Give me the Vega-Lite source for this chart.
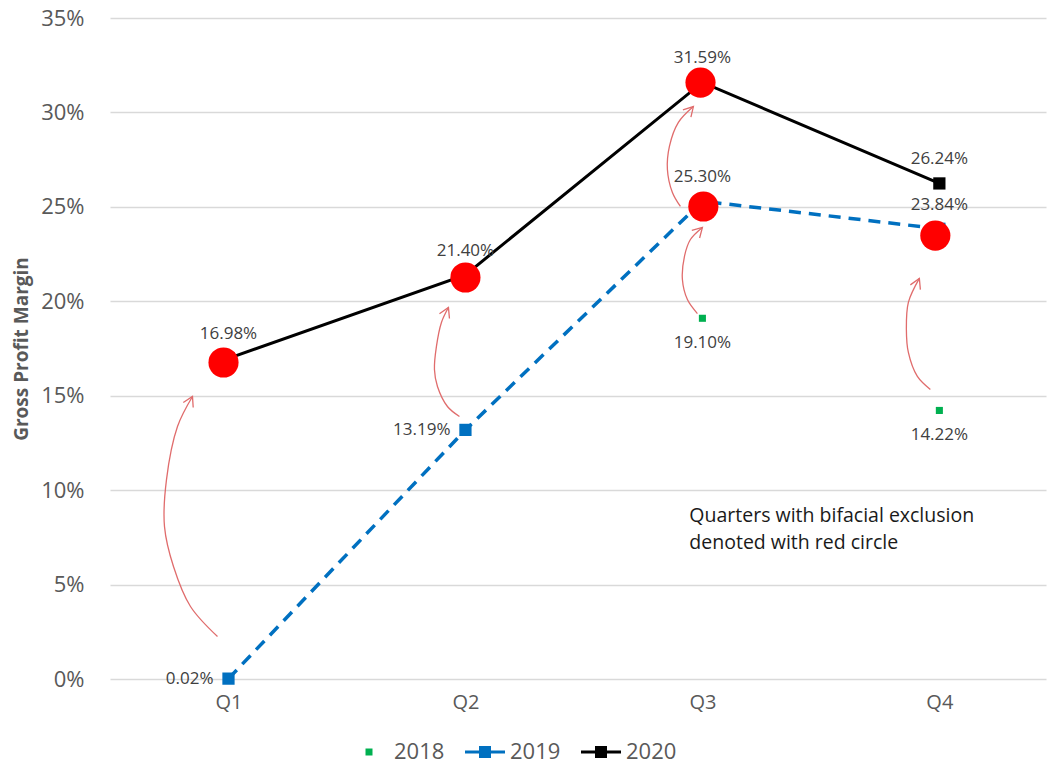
{
  "$schema": "https://vega.github.io/schema/vega-lite/v6.json",
  "width": 936,
  "height": 661,
  "autosize": {"type": "none"},
  "padding": {"left": 110, "top": 18, "right": 1, "bottom": 89},
  "background": "white",
  "config": {
    "view": {"stroke": null},
    "font": "Open Sans",
    "axis": {"labelFont": "Open Sans", "titleFont": "Open Sans"},
    "legend": {"labelFont": "Open Sans"}
  },
  "datasets": {
    "main": [
      {"year": "2018", "q": 3, "value": 0.1910},
      {"year": "2018", "q": 4, "value": 0.1422},
      {"year": "2019", "q": 1, "value": 0.0002},
      {"year": "2019", "q": 2, "value": 0.1319},
      {"year": "2019", "q": 3, "value": 0.2530},
      {"year": "2019", "q": 4, "value": 0.2384},
      {"year": "2020", "q": 1, "value": 0.1698},
      {"year": "2020", "q": 2, "value": 0.2140},
      {"year": "2020", "q": 3, "value": 0.3159},
      {"year": "2020", "q": 4, "value": 0.2624}
    ],
    "circles": [
      {"q": 0.979, "value": 0.1676},
      {"q": 2.0, "value": 0.2126},
      {"q": 2.992, "value": 0.3158},
      {"q": 3.004, "value": 0.2502},
      {"q": 3.983, "value": 0.2348}
    ],
    "arrows": [
      {"id": 1, "ord": 1, "q": 0.9536, "value": 0.0225},
      {"id": 1, "ord": 2, "q": 0.8397, "value": 0.0384},
      {"id": 1, "ord": 3, "q": 0.7679, "value": 0.0596},
      {"id": 1, "ord": 4, "q": 0.7300, "value": 0.0807},
      {"id": 1, "ord": 5, "q": 0.7384, "value": 0.1056},
      {"id": 1, "ord": 6, "q": 0.7848, "value": 0.1337},
      {"id": 1, "ord": 7, "q": 0.8481, "value": 0.1496},
      {"id": 2, "ord": 1, "q": 1.9747, "value": 0.1390},
      {"id": 2, "ord": 2, "q": 1.9241, "value": 0.1443},
      {"id": 2, "ord": 3, "q": 1.8819, "value": 0.1549},
      {"id": 2, "ord": 4, "q": 1.8692, "value": 0.1639},
      {"id": 2, "ord": 5, "q": 1.8776, "value": 0.1761},
      {"id": 2, "ord": 6, "q": 1.8987, "value": 0.1888},
      {"id": 2, "ord": 7, "q": 1.9283, "value": 0.1967},
      {"id": 3, "ord": 1, "q": 2.9789, "value": 0.1935},
      {"id": 3, "ord": 2, "q": 2.9367, "value": 0.2009},
      {"id": 3, "ord": 3, "q": 2.9156, "value": 0.2115},
      {"id": 3, "ord": 4, "q": 2.9241, "value": 0.2237},
      {"id": 3, "ord": 5, "q": 2.9494, "value": 0.2327},
      {"id": 3, "ord": 6, "q": 3.0, "value": 0.2391},
      {"id": 4, "ord": 1, "q": 2.9072, "value": 0.2502},
      {"id": 4, "ord": 2, "q": 2.8734, "value": 0.2576},
      {"id": 4, "ord": 3, "q": 2.8523, "value": 0.2698},
      {"id": 4, "ord": 4, "q": 2.8608, "value": 0.2820},
      {"id": 4, "ord": 5, "q": 2.8987, "value": 0.2947},
      {"id": 4, "ord": 6, "q": 2.9620, "value": 0.3031},
      {"id": 5, "ord": 1, "q": 3.9620, "value": 0.1533},
      {"id": 5, "ord": 2, "q": 3.9072, "value": 0.1602},
      {"id": 5, "ord": 3, "q": 3.8692, "value": 0.1729},
      {"id": 5, "ord": 4, "q": 3.8608, "value": 0.1851},
      {"id": 5, "ord": 5, "q": 3.8692, "value": 0.1994},
      {"id": 5, "ord": 6, "q": 3.9156, "value": 0.2121}
    ],
    "heads": [
      {"id": 1, "ord": 1, "q": 0.8093, "value": 0.1464},
      {"id": 1, "ord": 2, "q": 0.8481, "value": 0.1496},
      {"id": 1, "ord": 3, "q": 0.8511, "value": 0.1438},
      {"id": 2, "ord": 1, "q": 1.8903, "value": 0.1934},
      {"id": 2, "ord": 2, "q": 1.9283, "value": 0.1967},
      {"id": 2, "ord": 3, "q": 1.9325, "value": 0.1909},
      {"id": 3, "ord": 1, "q": 2.9553, "value": 0.2376},
      {"id": 3, "ord": 2, "q": 3.0, "value": 0.2391},
      {"id": 3, "ord": 3, "q": 2.9882, "value": 0.2335},
      {"id": 4, "ord": 1, "q": 2.9177, "value": 0.3014},
      {"id": 4, "ord": 2, "q": 2.9620, "value": 0.3031},
      {"id": 4, "ord": 3, "q": 2.9515, "value": 0.2975},
      {"id": 5, "ord": 1, "q": 3.8776, "value": 0.2087},
      {"id": 5, "ord": 2, "q": 3.9156, "value": 0.2121},
      {"id": 5, "ord": 3, "q": 3.9198, "value": 0.2062}
    ],
    "notes": [
      {"q": 2.945, "value": 0.0862, "text": "Quarters with bifacial exclusion"},
      {"q": 2.945, "value": 0.0720, "text": "denoted with red circle"}
    ]
  },
  "encoding": {
    "x": {
      "field": "q", "type": "quantitative",
      "scale": {"domain": [0.5, 4.45], "nice": false, "zero": false},
      "axis": {
        "values": [1, 2, 3, 4], "labelExpr": "'Q' + datum.value",
        "title": null, "grid": false, "ticks": false, "domain": false,
        "labelFontSize": 20, "labelColor": "#595959", "labelPadding": 13
      }
    },
    "y": {
      "field": "value", "type": "quantitative",
      "scale": {"domain": [0, 0.35], "nice": false},
      "axis": {
        "values": [0, 0.05, 0.1, 0.15, 0.2, 0.25, 0.3, 0.35], "format": ".0%",
        "title": "Gross Profit Margin", "titleFontSize": 19, "titleFontWeight": "bold",
        "titleColor": "#595959", "titlePadding": 9,
        "grid": true, "gridColor": "#D9D9D9", "gridWidth": 1.3,
        "ticks": false, "domain": false,
        "labelFontSize": 22, "labelColor": "#595959", "labelPadding": 26
      }
    }
  },
  "layer": [
    {
      "data": {"name": "main"},
      "transform": [{"filter": "datum.year == '2019'"}],
      "mark": {"type": "line", "color": "#0070C0", "strokeWidth": 3.5, "strokeDash": [12, 8]},
      "encoding": {"order": {"field": "q"}}
    },
    {
      "data": {"name": "main"},
      "transform": [{"filter": "datum.year == '2020'"}],
      "mark": {"type": "line", "color": "#000000", "strokeWidth": 3}
    },
    {
      "data": {"name": "main"},
      "transform": [{"filter": "datum.year == '2019'"}],
      "mark": {"type": "point", "shape": "square", "filled": true, "opacity": 1, "color": "#0070C0", "size": 150}
    },
    {
      "data": {"name": "main"},
      "transform": [{"filter": "datum.year == '2020'"}],
      "mark": {"type": "point", "shape": "square", "filled": true, "opacity": 1, "color": "#000000", "size": 150}
    },
    {
      "data": {"name": "main"},
      "transform": [{"filter": "datum.year == '2018'"}],
      "mark": {"type": "point", "shape": "square", "filled": true, "opacity": 1, "color": "#00B050", "size": 50}
    },
    {
      "data": {"name": "circles"},
      "mark": {"type": "point", "shape": "circle", "filled": true, "opacity": 1, "color": "#FF0000", "size": 908}
    },
    {
      "data": {"name": "arrows"},
      "mark": {"type": "line", "color": "#E06C6C", "strokeWidth": 1.3, "interpolate": "catmull-rom"},
      "encoding": {"detail": {"field": "id"}, "order": {"field": "ord"}}
    },
    {
      "data": {"name": "heads"},
      "mark": {"type": "line", "color": "#E06C6C", "strokeWidth": 1.3},
      "encoding": {"detail": {"field": "id"}, "order": {"field": "ord"}}
    },
    {
      "data": {"name": "main"},
      "transform": [{"filter": "datum.year == '2020' || (datum.year == '2019' && datum.q >= 3)"}],
      "mark": {"type": "text", "dy": -24, "fontSize": 17, "color": "#404040", "baseline": "middle"},
      "encoding": {"text": {"field": "value", "type": "quantitative", "format": ".2%"}}
    },
    {
      "data": {"name": "main"},
      "transform": [{"filter": "datum.year == '2019' && datum.q <= 2"}],
      "mark": {"type": "text", "dx": -15, "align": "right", "fontSize": 17, "color": "#404040", "baseline": "middle"},
      "encoding": {"text": {"field": "value", "type": "quantitative", "format": ".2%"}}
    },
    {
      "data": {"name": "main"},
      "transform": [{"filter": "datum.year == '2018'"}],
      "mark": {"type": "text", "dy": 25, "fontSize": 17, "color": "#404040", "baseline": "middle"},
      "encoding": {"text": {"field": "value", "type": "quantitative", "format": ".2%"}}
    },
    {
      "data": {"name": "notes"},
      "mark": {"type": "text", "align": "left", "baseline": "middle", "fontSize": 19.5, "color": "#1A1A1A"},
      "encoding": {"text": {"field": "text"}}
    },
    {
      "data": {"name": "main"},
      "mark": {"type": "point", "filled": true, "opacity": 0},
      "encoding": {
        "color": {
          "field": "year", "type": "nominal",
          "scale": {"domain": ["2018", "2019", "2020"], "range": ["#00B050", "#0070C0", "#000000"]},
          "legend": {
            "title": null, "orient": "none", "direction": "horizontal",
            "legendX": 239, "legendY": 714, "padding": 0,
            "symbolSize": 1600, "symbolOpacity": 1, "symbolStrokeWidth": 0,
            "labelFontSize": 22, "labelColor": "#595959", "labelOffset": 5,
            "columnPadding": 20,
            "encode": {"symbols": {"update": {"opacity": {"value": 1}, "fillOpacity": {"value": 1}}}}
          }
        },
        "shape": {
          "field": "year", "type": "nominal",
          "scale": {
            "domain": ["2018", "2019", "2020"],
            "range": [
              "M-0.175,-0.175H0.175V0.175H-0.175Z",
              "M-1,-0.075H1V0.075H-1Z M-0.3,-0.3H0.3V0.3H-0.3Z",
              "M-1,-0.075H1V0.075H-1Z M-0.3,-0.3H0.3V0.3H-0.3Z"
            ]
          }
        }
      }
    }
  ]
}
